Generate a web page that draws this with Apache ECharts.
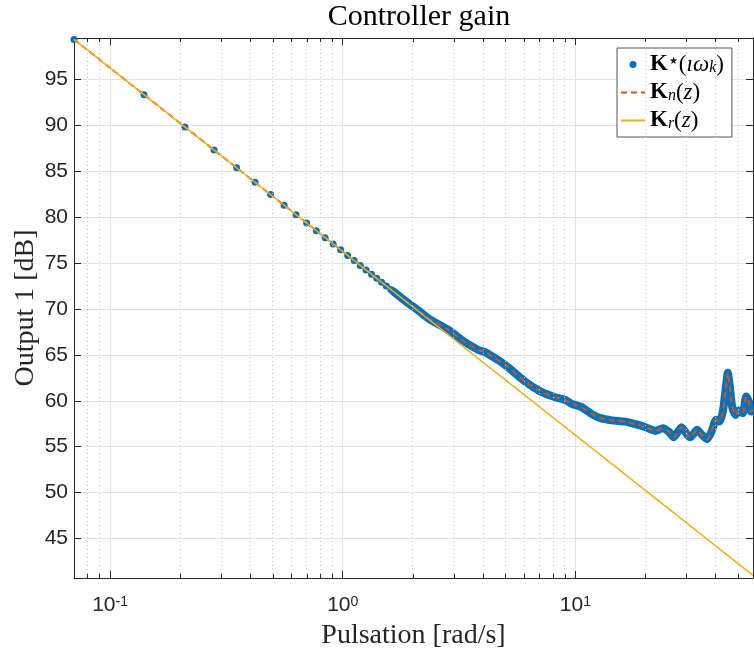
<!DOCTYPE html>
<html><head><meta charset="utf-8">
<script src="https://cdn.jsdelivr.net/npm/echarts@6/dist/echarts.min.js"></script>
<style>html,body{margin:0;padding:0;background:#fff}#c{width:754px;height:650px}</style>
</head><body><div id="c"></div>
<script>
// ---- text ----
const titleText = 'Controller gain';
const xName = 'Pulsation [rad/s]';
const yName = 'Output 1 [dB]';
// ---- axis ranges / ticks ----
const xMin = 0.07, xMax = 58;
const yMin = 40.7, yMax = 99.5;
const xMinorTicks = [0.08,0.09,0.2,0.3,0.4,0.5,0.6,0.7,0.8,0.9,2,3,4,5,6,7,8,9,20,30,40,50];
// ---- K*(i w_k): sampled frequency response (sparse visible dots) ----
const dotOmega = [0.07,0.14,0.21,0.28,0.35,0.42,0.49,0.56,0.63,0.70,0.77,0.84,0.91,0.98,1.05,1.12,1.19,1.26,1.33,1.40,1.47,1.54,1.61,1.68,1.75,1.82,1.89,1.96];
const dotGain  = [99.35,93.33,89.80,87.31,85.37,83.79,82.45,81.29,80.26,79.35,78.52,77.76,77.07,76.43,75.83,75.27,74.74,74.24,73.77,73.33,72.90,72.50,72.11,71.74,71.39,71.05,70.72,70.41];
// ---- K_n(z): traced curve (the dense K* samples lie on it) ----
const nOmega = [0.07,0.1,0.2,0.5,1.0,1.5,1.65,1.8,2.11,2.33,2.85,3.25,3.83,4.09,4.52,4.99,5.16,6.09,7.1,8.2,9.05,9.66,10.67,11.78,12.71,14.36,16.4,18.11,20.0,22.08,23.74,25.19,26.47,28.57,30.5,31.24,33.34,35.04,36.82,38.46,40.27,41.65,43.03,44.2,45.22,46.12,47.18,48.79,50.41,52.46,54.2,55.67,56.95,58.0];
const nGain  = [99.35,96.25,90.23,82.27,76.25,72.73,71.9,71.14,69.85,68.98,67.71,66.62,65.53,65.3,64.63,63.9,63.6,62.08,61.0,60.39,60.09,59.66,59.28,58.54,58.13,57.86,57.73,57.45,57.12,56.72,57.01,56.64,56.03,57.12,56.17,56.03,56.83,56.28,55.82,56.64,57.92,57.73,58.82,61.18,63.06,61.54,59.36,58.46,58.93,58.65,60.45,59.91,58.82,59.0];
// ---- K_r(z): reduced controller ----
const rOmega = [0.07,0.1,1,10,58];
const rGain  = [99.35,96.25,76.25,56.25,40.98];

const BLUE = '#0072BD', ORANGE = '#D95319', YELLOW = '#EDB120', AX = '#262626';
const zip = (a, b) => a.map((v, i) => [v, b[i]]);
const denseStart = nOmega.findIndex(w => w >= 1.65);

const legendText = {
  'Kstar': '{b|K}{sup|★}{r|(}{it|ıω}{sub|k}{r|)}',
  'Kn': '{b|K}{sub|n}{r|(}{it|z}{r|)}',
  'Kr': '{b|K}{sub|r}{r|(}{it|z}{r|)}'
};
const serif = 'Liberation Serif';

const chart = echarts.init(document.getElementById('c'), null, {renderer: 'canvas'});
const option = {
  animation: false,
  backgroundColor: '#fff',
  title: {
    text: titleText, left: 414, top: -3, textAlign: 'center',
    textStyle: {fontFamily: serif, fontWeight: 'normal', fontSize: 30, color: '#000'}
  },
  grid: {left: 74, right: 1, top: 38, bottom: 72, containLabel: false, outerBoundsMode: 'none'},
  legend: {
    orient: 'vertical', left: 617, top: 48,
    padding: [5, 8, 5, 3], itemGap: 5, itemWidth: 24, itemHeight: 7,
    borderColor: '#555', borderWidth: 1, backgroundColor: '#fff',
    data: [
      {name: 'Kstar', icon: 'circle'},
      {name: 'Kn', itemStyle: {opacity: 0}},
      {name: 'Kr', itemStyle: {opacity: 0}}
    ],
    formatter: n => legendText[n],
    textStyle: {
      color: '#000',
      rich: {
        b: {fontFamily: serif, fontWeight: 'bold', fontSize: 23},
        r: {fontFamily: serif, fontSize: 23},
        it: {fontFamily: serif, fontStyle: 'italic', fontSize: 23},
        sup: {fontFamily: 'DejaVu Sans', fontSize: 10, verticalAlign: 'top', padding: [3, 1, 0, 1]},
        sub: {fontFamily: serif, fontStyle: 'italic', fontSize: 16, verticalAlign: 'bottom'}
      }
    }
  },
  xAxis: [{
    type: 'log', logBase: 10, min: xMin, max: xMax,
    name: xName, nameLocation: 'middle', nameGap: 44, nameMoveOverlap: false,
    nameTextStyle: {fontFamily: serif, fontSize: 28, color: AX},
    axisLine: {show: true, lineStyle: {color: AX, width: 1}},
    axisTick: {show: true, inside: true, length: 7, lineStyle: {color: AX}},
    axisLabel: {
      showMinLabel: false, showMaxLabel: false, margin: 17,
      formatter: v => {
        const e = Math.round(Math.log10(v));
        return '{b|10}{s|' + e + '}';
      },
      rich: {
        b: {fontFamily: 'Liberation Sans', fontSize: 21, color: AX},
        s: {fontFamily: 'Liberation Sans', fontSize: 14, color: AX, verticalAlign: 'top'}
      }
    },
    splitLine: {show: true, lineStyle: {color: '#e3e3e3', width: 1}}
  }, {
    type: 'log', logBase: 10, min: xMin, max: xMax, position: 'top',
    axisLine: {show: true, lineStyle: {color: AX, width: 1}},
    axisTick: {show: true, inside: true, length: 7, lineStyle: {color: AX}},
    axisLabel: {show: false}, splitLine: {show: false}
  }],
  yAxis: [{
    type: 'value', min: yMin, max: yMax, splitNumber: 12,
    name: yName, nameLocation: 'middle', nameGap: 34, nameRotate: 90, nameMoveOverlap: false,
    nameTextStyle: {fontFamily: serif, fontSize: 28, color: AX},
    axisLine: {show: true, lineStyle: {color: AX, width: 1}},
    axisTick: {show: true, inside: true, length: 7, lineStyle: {color: AX}},
    axisLabel: {showMinLabel: false, showMaxLabel: false, margin: 6,
      fontFamily: 'Liberation Sans', fontSize: 21, color: AX},
    splitLine: {show: true, lineStyle: {color: '#e3e3e3', width: 1}}
  }, {
    type: 'value', min: yMin, max: yMax, splitNumber: 12, position: 'right',
    axisLine: {show: true, lineStyle: {color: AX, width: 1}},
    axisTick: {show: true, inside: true, length: 7, lineStyle: {color: AX}},
    axisLabel: {show: false}, splitLine: {show: false}
  }],
  series: [
    {
      name: 'minorGrid', type: 'line', data: [], silent: true, z: 1,
      markLine: {
        silent: true, symbol: ['none', 'none'], label: {show: false},
        lineStyle: {type: [1, 3], color: '#c8c8c8', width: 1},
        data: xMinorTicks.map(v => ({xAxis: v}))
      }
    },
    {
      name: 'KstarDense', type: 'line', data: zip(nOmega, nGain).slice(denseStart),
      showSymbol: false, symbol: 'none', smooth: 0.2, silent: true,
      lineStyle: {color: BLUE, width: 8, cap: 'round', join: 'round'}
    },
    {
      name: 'Kstar', type: 'scatter', data: zip(dotOmega, dotGain),
      symbol: 'circle', symbolSize: 7, itemStyle: {color: BLUE, opacity: 1}
    },
    {
      name: 'Kn', type: 'line', data: zip(nOmega, nGain), symbol: 'none', smooth: 0.2,
      itemStyle: {color: ORANGE},
      lineStyle: {color: ORANGE, width: 2, type: [6, 4]}
    },
    {
      name: 'Kr', type: 'line', data: zip(rOmega, rGain), symbol: 'none',
      itemStyle: {color: YELLOW},
      lineStyle: {color: YELLOW, width: 1.5}
    }
  ]
};
chart.setOption(option);

// minor tick marks on bottom and top x axes, placed through the axis scale
const yB = chart.convertToPixel({yAxisIndex: 0}, yMin);
const yT = chart.convertToPixel({yAxisIndex: 0}, yMax);
const g = [];
xMinorTicks.forEach(v => {
  const x = Math.round(chart.convertToPixel({xAxisIndex: 0}, v)) + 0.5;
  g.push({type: 'line', silent: true, z: 50, shape: {x1: x, y1: yB, x2: x, y2: yB - 4}, style: {stroke: AX, lineWidth: 1}});
  g.push({type: 'line', silent: true, z: 50, shape: {x1: x, y1: yT, x2: x, y2: yT + 4}, style: {stroke: AX, lineWidth: 1}});
});
chart.setOption({graphic: g});
</script>
</body></html>
